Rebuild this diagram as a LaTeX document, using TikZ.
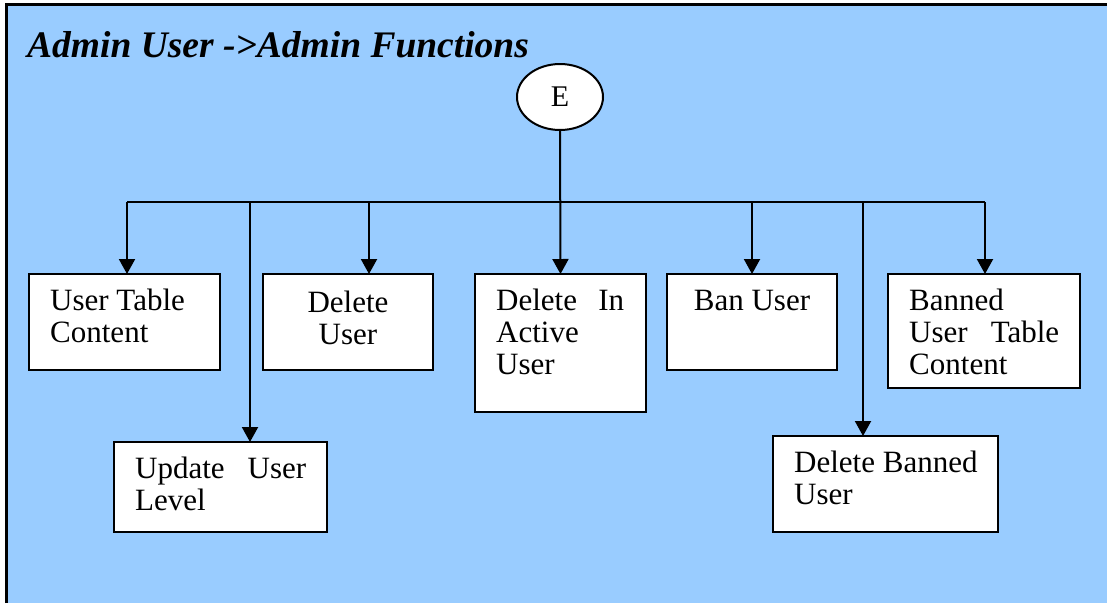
\documentclass[tikz,border=0pt]{standalone}
\usepackage{fontspec}
\setmainfont{Liberation Serif}
\usetikzlibrary{arrows.meta,shapes.geometric}
\definecolor{panel}{RGB}{153,204,255}
% fixed-height strut so every label's first baseline sits at the same depth
\newcommand\firstln{\rule{0pt}{28pt}}

\begin{document}
\begin{tikzpicture}[x=1pt,y=-1pt,
  funcbox/.style={draw=black, line width=2pt, fill=white, anchor=north west,
    inner sep=0pt, outer sep=0pt},
  boxtext/.style={anchor=north west, inner sep=0pt, align=left,
    font=\fontsize{31}{32}\selectfont},
  boxtextc/.style={boxtext, anchor=north, align=center},
  link/.style={line width=2pt, draw=black},
  arr/.style={link, -{Triangle[length=15pt,width=16pt]}}
]
\useasboundingbox (0,0) rectangle (1107,603);

% background panel with its frame
\fill[panel] (6,4) rectangle (1107,603);
\draw[line width=3pt] (6,603) -- (6,4) -- (1107,4);

% heading
\node[anchor=base west, inner sep=0pt, font=\fontsize{37.5}{40}\selectfont\bfseries\itshape]
  (title) at (27,57) {Admin User ->Admin Functions};

% entry point
\node[draw, ellipse, fill=white, line width=2pt, minimum width=86pt, minimum height=66pt,
  inner sep=0pt, font=\fontsize{30}{32}\selectfont] (E) at (560,97) {\raisebox{-2pt}{E}};

% function boxes
\node[funcbox, minimum width=191pt, minimum height=96pt]  (utc) at (29,274) {};
\node[funcbox, minimum width=170pt, minimum height=96pt]  (du)  at (263,274) {};
\node[funcbox, minimum width=213pt, minimum height=90pt]  (uul) at (114,442) {};
\node[funcbox, minimum width=171pt, minimum height=138pt] (dia) at (475,274) {};
\node[funcbox, minimum width=170pt, minimum height=96pt]  (ban) at (667,274) {};
\node[funcbox, minimum width=192pt, minimum height=114pt] (bct) at (888,274) {};
\node[funcbox, minimum width=225pt, minimum height=96pt]  (dbu) at (773,436) {};

% box labels
\node[boxtext]  (utc-t) at (50,282)  {\firstln User Table\\Content};
\node[boxtextc] (du-t)  at (348,284) {\firstln Delete\\User};
\node[boxtext]  (uul-t) at (135,450) {\firstln\makebox[171pt][s]{Update\hfill User}\\Level};
\node[boxtext]  (dia-t) at (496,282) {\firstln\makebox[128pt][s]{Delete\hfill In}\\Active\\User};
\node[boxtextc] (ban-t) at (752,282) {\firstln Ban User};
\node[boxtext]  (bct-t) at (909,282) {\firstln Banned\\\makebox[150pt][s]{User\hfill Table}\\Content};
\node[boxtext]  (dbu-t) at (794,444) {\firstln Delete Banned\\User};

% distribution bus
\coordinate (bl) at (127,202);
\coordinate (br) at (985,202);
\coordinate (j1) at (127,202);
\coordinate (j2) at (250,202);
\coordinate (j3) at (369,202);
\coordinate (j5) at (752,202);
\coordinate (j6) at (863,202);
\coordinate (j7) at (985,202);

\draw[link] (bl) -- (br);
\draw[arr] (E.south) -- (dia.north);
\draw[arr] (j1) -- (j1 |- utc.north);
\draw[arr] (j2) -- (j2 |- uul.north);
\draw[arr] (j3) -- (j3 |- du.north);
\draw[arr] (j5) -- (j5 |- ban.north);
\draw[arr] (j6) -- (j6 |- dbu.north);
\draw[arr] (j7) -- (j7 |- bct.north);
\end{tikzpicture}
\end{document}
